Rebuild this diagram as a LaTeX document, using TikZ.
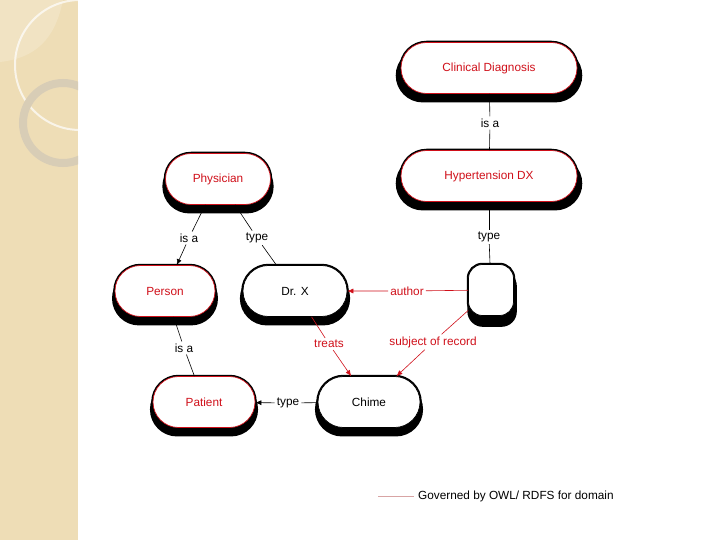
\documentclass[tikz,border=0pt]{standalone}
\usepackage{fontspec}
\setmainfont{Liberation Sans}
\usetikzlibrary{shapes.misc,shadows,arrows.meta}
\definecolor{beige}{HTML}{EEDDB6}
\definecolor{ringc}{HTML}{D8CDB6}
\definecolor{dred}{HTML}{D0101A}
\definecolor{legc}{HTML}{D8A4A4}
\begin{document}
\begin{tikzpicture}[x=1pt,y=-1pt, font=\fontsize{11.8}{13}\selectfont,
 pill/.style={rounded rectangle, minimum height=51pt, inner sep=0pt, fill=white,
   general shadow={fill=black, shadow yshift=-7pt, shadow scale=1.06},
   preaction={draw=black, line width=3.5pt}},
 boxy/.style={rectangle, rounded corners=14pt, minimum height=51pt, inner sep=0pt, fill=white,
   general shadow={fill=black, shadow yshift=-8pt, shadow xshift=1pt, shadow scale=1.1},
   preaction={draw=black, line width=3.5pt}},
 cls/.style={pill, draw=dred, line width=0.7pt, text=dred},
 inst/.style={pill, draw=black, line width=0.7pt, text=black},
 lab/.style={inner sep=2pt, fill=white},
 rlab/.style={lab, text=dred},
 edge/.style={draw=black, line width=0.6pt},
 redge/.style={draw=dred, line width=0.6pt},
 tip/.style={-{Latex[length=6pt,width=5pt]}}
]
% background
\fill[white] (0,0) rectangle (720,540);
\fill[beige] (0,0) rectangle (78,540);
\begin{scope}
\clip (0,0) rectangle (78,540);
\fill[white,opacity=0.18] (0,0) -- (63,0) .. controls (55,40) and (35,58) .. (0,62) -- cycle;
\draw[white,opacity=0.7,line width=2pt] (80,65) circle (65);
\draw[ringc,line width=8pt] (63,123) circle (40);
\end{scope}

% nodes
\node[cls, minimum width=176pt] (cd) at (489,68) {Clinical Diagnosis};
\node[cls, minimum width=176pt] (hx) at (489,176) {Hypertension DX};
\node[cls, minimum width=105pt] (ph) at (218,179) {Physician};
\node[cls, minimum width=100pt] (pe) at (165,291) {Person};
\node[inst, minimum width=104pt] (dx) at (295,291) {Dr. X};
\node[boxy, draw=black, line width=0.7pt, minimum width=45pt] (bl) at (491,290) {};
\node[cls, minimum width=102pt] (pa) at (204,402) {Patient};
\node[inst, minimum width=102pt] (ch) at (369,402) {Chime};

% edges
\node[lab] (l1) at (490,123) {is a};
\draw[edge] (l1) -- (cd);
\draw[edge] (hx) -- (l1);
\node[lab] (l2) at (489,237) {type};
\draw[edge] (l2) -- (hx);
\draw[edge] (bl) -- (l2);
\node[lab] (l3) at (189,238) {is a};
\draw[edge] (ph) -- (l3);
\draw[edge,tip] (l3) -- (pe);
\node[lab] (l4) at (257,238) {type};
\draw[edge] (ph) -- (l4);
\draw[edge] (l4) -- (dx);
\node[lab] (l5) at (184,348) {is a};
\draw[edge] (pe) -- (l5);
\draw[edge] (l5) -- (pa);
\node[lab] (l6) at (288,403) {type};
\draw[edge,tip] (l6) -- (pa);
\draw[edge] (ch) -- (l6);
\node[rlab] (l7) at (407,291) {author};
\draw[redge,tip] (l7) -- (dx);
\draw[redge] (bl) -- (l7);
\node[rlab] (l8) at (329,344) {treats};
\draw[redge] (dx) -- (l8);
\draw[redge,tip] (l8) -- (ch);
\node[rlab] (l9) at (433,342) {subject of record};
\draw[redge] (bl) -- (l9);
\draw[redge,tip] (l9) -- (ch);

% legend
\coordinate (lg) at (378,496);
\node[anchor=west, inner sep=3pt] (lt) at (415,496) {Governed by OWL/ RDFS for domain};
\draw[legc, line width=0.6pt, shorten >=1pt] (lg) -- (lt.west);
\end{tikzpicture}
\end{document}
